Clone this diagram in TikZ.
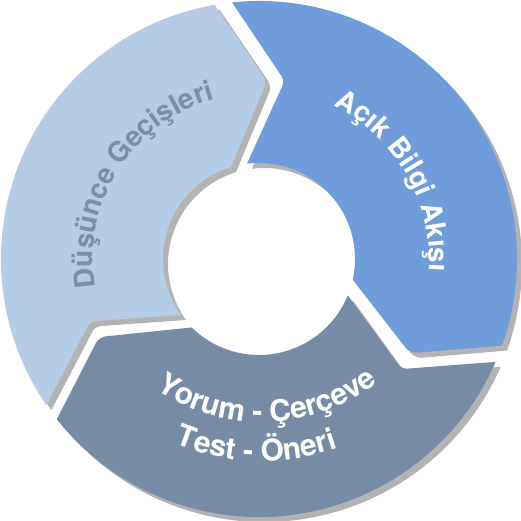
\documentclass[tikz,border=0pt]{standalone}
\usepackage{fontspec}
\setmainfont{TeX Gyre Heros}
\usetikzlibrary{decorations.text}
\definecolor{segLight}{HTML}{B5CCE4}
\definecolor{segBlue}{HTML}{6F9DDB}
\definecolor{segDark}{HTML}{778BA4}
\definecolor{segShadow}{HTML}{B3B3B3}
\definecolor{txtLight}{HTML}{7A8FA8}
% #1 tail angle, #2 head angle, #3 style
\newcommand\segshape[3]{%
  \fill[#3] (#1+8.5:258pt) arc[start angle=#1+8.5, end angle=#2+12.4, radius=258pt]
    [rounded corners=7pt] -- (#2:178pt) [sharp corners] -- (#2+19.5:96pt)
    arc[start angle=#2+19.5, end angle=#1+9.7, radius=96pt]
    [rounded corners=5pt] -- (#1-5.7:180pt) [sharp corners] -- cycle;}
\newcommand\arcfont{\fontsize{28}{28}\selectfont\bfseries}
\newcommand\arcfontb{\fontsize{30}{30}\selectfont\bfseries}
\tikzset{
  shadowfill/.style={fill=segShadow, shift={(5pt,-5pt)}},
  arctext/.style={decorate, decoration={text along path, text align=center, text={#1}}}
}
\begin{document}
\begin{tikzpicture}[x=1pt,y=1pt]
\fill[white] (-259,-262) rectangle (262,259);
\useasboundingbox (-259,-262) rectangle (262,259);
% shadows
\segshape{206}{87.5}{shadowfill}
\segshape{87.5}{-32}{shadowfill}
\segshape{-32}{-154}{shadowfill}
% segments
\segshape{206}{87.5}{fill=segLight}
\segshape{87.5}{-32}{fill=segBlue}
\segshape{-32}{-154}{fill=segDark}
% texts
\path[arctext={|\arcfont\color{txtLight}|Düşünce Geçişleri}]
  (237.6:166pt) arc[start angle=237.6, end angle=57.6, radius=166pt];
\path[arctext={|\arcfont\color{white}|Açık Bilgi Akışı}]
  (120:170pt) arc[start angle=120, end angle=-60, radius=170pt];
\coordinate (tc) at (3,27);
\path[arctext={|\arcfontb\color{white}|Yorum - Çerçeve}]
  (tc) ++(191.8:190pt) arc[start angle=191.8, end angle=351.8, radius=190pt];
\path[arctext={|\arcfontb\color{white}|Test - Öneri}]
  (tc) ++(198.5:229pt) arc[start angle=198.5, end angle=338.5, radius=229pt];
\end{tikzpicture}
\end{document}
